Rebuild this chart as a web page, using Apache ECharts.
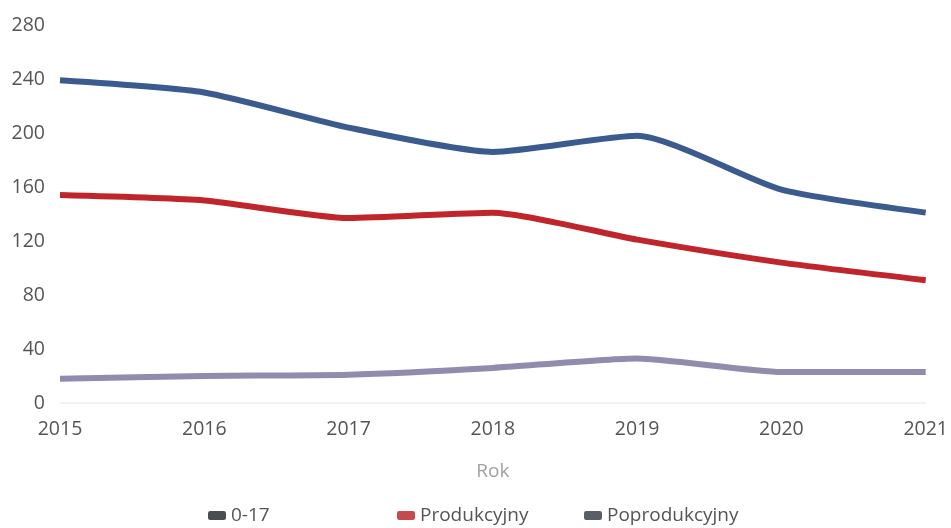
<!DOCTYPE html>
<html>
<head>
<meta charset="utf-8">
<script src="https://cdn.jsdelivr.net/npm/echarts@6/dist/echarts.min.js"></script>
<style>
  html, body { margin: 0; padding: 0; background: #fff; }
  #chart { width: 951px; height: 528px; }
</style>
</head>
<body>
<div id="chart"></div>
<script>
// lata
const years = ['2015', '2016', '2017', '2018', '2019', '2020', '2021'];
const yTicks = [0, 40, 80, 120, 160, 200, 240, 280];
const seriesNames = ['0-17', 'Produkcyjny', 'Poprodukcyjny'];
// wartości
const values017 = [239, 230, 204, 186, 198, 158, 141];
const valuesProd = [154, 150, 137, 141, 121, 104, 91];
const valuesPoprod = [18, 20, 21, 26, 33, 23, 23];

const lineColors = ['#3b5b8e', '#bf252b', '#8f8cae'];
const legendColors = ['#4a4d52', '#c44a4c', '#5a5e66'];
const legendLeft = [203, 392, 579];

const font = '"Open Sans", "Noto Sans", sans-serif';

const myChart = echarts.init(document.getElementById('chart'));

const makeSeries = (name, data, i) => ({
  name,
  type: 'line',
  data,
  smooth: 0.2,
  showSymbol: false,
  symbol: 'none',
  itemStyle: { color: legendColors[i] },
  lineStyle: { color: lineColors[i], width: 6 },
});

// osobna legenda dla każdej serii (stałe odstępy jak w oryginale)
const legends = seriesNames.map((name, i) => ({
  left: legendLeft[i],
  top: 501,
  icon: 'roundRect',
  itemWidth: 18,
  itemHeight: 9,
  itemGap: 8,
  data: [name],
  textStyle: {
    fontSize: 19,
    color: '#555',
    fontFamily: font,
  },
}));

const option = {
  animation: false,
  textStyle: { fontFamily: font },
  grid: {
    left: 60,
    right: 25,
    top: 25,
    bottom: 125,
  },
  legend: legends,
  xAxis: {
    type: 'category',
    data: years,
    boundaryGap: false,
    name: 'Rok',
    nameLocation: 'middle',
    nameGap: 59,
    nameTextStyle: { fontSize: 19, color: '#a0a0a0', fontFamily: font },
    axisLine: { show: true, lineStyle: { color: '#f2f2f2', width: 2 } },
    axisTick: { show: false },
    axisLabel: {
      fontSize: 19.5,
      color: '#555',
      margin: 16,
      fontFamily: font,
    },
    splitLine: { show: false },
  },
  yAxis: {
    type: 'value',
    min: yTicks[0],
    max: yTicks[yTicks.length - 1],
    interval: 40,
    axisLine: { show: false },
    axisTick: { show: false },
    axisLabel: { fontSize: 19.5, color: '#555', margin: 15, fontFamily: font },
    splitLine: { show: false },
  },
  series: [
    makeSeries(seriesNames[0], values017, 0),
    makeSeries(seriesNames[1], valuesProd, 1),
    makeSeries(seriesNames[2], valuesPoprod, 2),
  ],
};

myChart.setOption(option, true);
</script>
</body>
</html>
